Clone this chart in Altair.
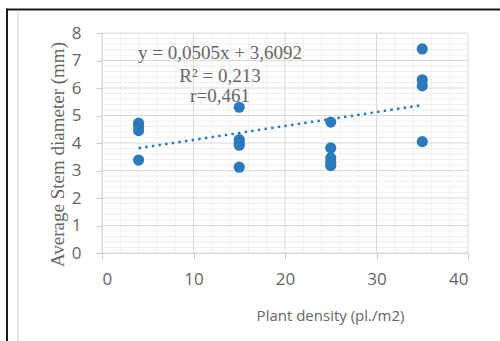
import altair as alt
import pandas as pd

# ---- data ----
density = [4, 4, 4, 4,
           15, 15, 15, 15, 15,
           25, 25, 25, 25, 25,
           35, 35, 35, 35]
diameter = [4.72, 4.60, 4.45, 3.38,
            5.30, 4.12, 4.00, 3.92, 3.12,
            4.76, 3.82, 3.46, 3.30, 3.18,
            7.42, 6.30, 6.08, 4.05]

trend_x = [4, 35]
trend_y = [3.811, 5.377]

x_major = [0, 10, 20, 30, 40]
x_minor = [2, 4, 6, 8, 12, 14, 16, 18, 22, 24, 26, 28, 32, 34, 36, 38]
y_major = [0, 1, 2, 3, 4, 5, 6, 7, 8]
y_minor = [i / 5 for i in range(41) if i % 5 != 0]

eq_lines = ["y = 0,0505x + 3,6092", "R² = 0,213", "r=0,461"]

x_title = "Plant density (pl./m2)"
y_title = "Average Stem diameter (mm)"

# ---- tables ----
pts = pd.DataFrame({"x": density, "y": diameter})
trend = pd.DataFrame({"x": trend_x, "y": trend_y})
dx_minor = pd.DataFrame({"x": x_minor})
dy_minor = pd.DataFrame({"y": y_minor})
dx_major = pd.DataFrame({"x": x_major})
dy_major = pd.DataFrame({"y": y_major})
one = alt.Data(values=[{}])

xs = alt.Scale(domain=[0, 40], nice=False, zero=False)
ys = alt.Scale(domain=[0, 8], nice=False, zero=False)

GRAY_MINOR = "#f0f0f0"
GRAY_MAJOR = "#d9d9d9"
TXT = "#666666"
BLUE = "#2b7bbc"

x_axis = alt.Axis(values=x_major, title=x_title, titleX=228, titleY=62,
                  titleAlign="center", titleBaseline="middle",
                  labelFontSize=17, labelPadding=12, tickSize=6)
y_axis = alt.Axis(values=y_major, title=y_title, titleAngle=270,
                  titleX=-39, titleY=121, titleAlign="center",
                  titleBaseline="alphabetic",
                  labelFontSize=17, labelPadding=15, tickSize=6)

X = lambda: alt.X("x:Q", scale=xs, axis=x_axis, title=x_title)
Y = lambda: alt.Y("y:Q", scale=ys, axis=y_axis, title=y_title)

gx_minor = alt.Chart(dx_minor).mark_rule(color=GRAY_MINOR, strokeWidth=1).encode(x=X())
gy_minor = alt.Chart(dy_minor).mark_rule(color=GRAY_MINOR, strokeWidth=1).encode(y=Y())
gx_major = alt.Chart(dx_major).mark_rule(color=GRAY_MAJOR, strokeWidth=1).encode(x=X())
gy_major = alt.Chart(dy_major).mark_rule(color=GRAY_MAJOR, strokeWidth=1).encode(y=Y())

points = alt.Chart(pts).mark_circle(size=125, opacity=1, color=BLUE).encode(
    x=X(), y=Y())

trend_line = alt.Chart(trend).mark_line(
    color=BLUE, strokeWidth=2.5, strokeDash=[2.5, 4.2]).encode(x=X(), y=Y())

eq_y = [26, 49, 69]
eq_texts = [
    alt.Chart(one).mark_text(font="Liberation Serif", fontSize=19, color=TXT,
                             align="center", baseline="alphabetic").encode(
        x=alt.value(118), y=alt.value(yy), text=alt.value(t))
    for t, yy in zip(eq_lines, eq_y)
]

border_top = alt.Chart(one).mark_rule(color="#1a1a1a", strokeWidth=2).encode(
    x=alt.value(-95), x2=alt.value(398), y=alt.value(-23.5))
border_left = alt.Chart(one).mark_rule(color="#1a1a1a", strokeWidth=2).encode(
    x=alt.value(-95), y=alt.value(-24.5), y2=alt.value(308))
inner_left = alt.Chart(one).mark_rule(color="#dcdcdc", strokeWidth=1.5).encode(
    x=alt.value(-84), y=alt.value(-22), y2=alt.value(308))

chart = alt.layer(
    gx_minor, gy_minor, gx_major, gy_major, trend_line, points,
    *eq_texts, border_top, border_left, inner_left
).properties(
    width=366, height=220,
    padding={"left": 102, "top": 33, "right": 32, "bottom": 88},
    autosize="none", background="white"
).configure_view(
    stroke=None
).configure_axis(
    grid=False, domainColor=GRAY_MAJOR, tickColor="#c8c8c8", tickSize=6,
    labelFont="Open Sans", labelFontSize=17, labelColor=TXT,
    titleFontWeight="normal", titleColor=TXT
).configure_axisX(
    labelPadding=12, titleFont="Open Sans", titleFontSize=15
).configure_axisY(
    labelPadding=15, titleFont="Liberation Serif", titleFontSize=19
)

chart.save("out.html", embed_options={"renderer": "svg", "actions": False})
